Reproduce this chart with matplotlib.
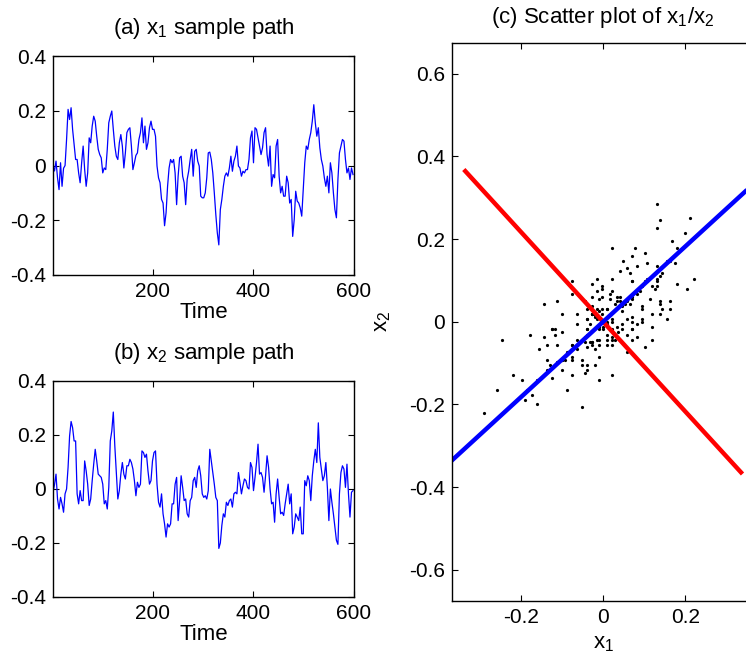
import numpy as np
import matplotlib
matplotlib.use("Agg")
import matplotlib.pyplot as plt
from matplotlib.ticker import FuncFormatter

plt.rcParams['font.family'] = ['Liberation Sans', 'DejaVu Sans']
plt.rcParams['mathtext.fontset'] = 'custom'
plt.rcParams['mathtext.rm'] = 'Liberation Sans'
plt.rcParams['axes.unicode_minus'] = False

# sampling times (every 3rd step of 600)
time = np.arange(1, 601, 3)

x1 = [
    0, -0.02, 0.016, -0.045, -0.088, 0.01, -0.076, -0.01, 0, 0.095, 0.205, 0.168, 0.211, 0.132, 0.077, 0.022, 0.022, -0.027, -0.063, 0.01,
    0.071, -0.015, -0.076, -0.027, 0.101, 0.083, 0.144, 0.18, 0.162, 0.107, 0.059, 0.04, 0.028, -0.027, -0.009, -0.015, 0.059, 0.156, 0.18, 0.199,
    0.132, 0.071, 0.034, 0.022, 0.083, 0.113, 0.071, -0.009, 0.046, 0.12, 0.132, 0.138, 0.071, -0.015, 0.01, 0.037, 0.046, 0.095, 0.12, 0.174,
    0.083, 0.144, 0.059, 0.083, 0.138, 0.162, 0.132, 0.132, 0.107, -0.002, -0.045, -0.063, -0.124, -0.137, -0.22, -0.173, -0.076, -0.009, 0.022, 0.01,
    0.022, -0.027, -0.143, -0.039, 0.028, 0.034, -0.039, -0.063, -0.143, -0.051, -0.021, 0.022, 0.059, -0.039, 0.052, 0.059, 0.016, -0.002, -0.112, -0.118,
    -0.118, -0.1, -0.045, 0.046, 0.049, 0.022, -0.027, -0.1, -0.179, -0.246, -0.29, -0.161, -0.124, -0.076, -0.039, -0.027, -0.039, -0.009, 0.034, -0.021,
    0.016, 0.034, 0.071, -0.002, -0.009, -0.039, -0.021, -0.027, -0.015, -0.015, 0.022, 0.101, 0.126, 0.01, 0.138, 0.132, 0.101, 0.071, 0.04, 0.065,
    0.12, 0.138, 0.04, -0.002, 0.071, -0.076, -0.033, -0.045, 0.071, 0.095, -0.039, -0.1, -0.076, -0.112, -0.112, -0.039, -0.063, -0.137, -0.124, -0.259,
    -0.198, -0.094, -0.13, -0.137, -0.155, -0.185, -0.088, 0.01, 0.071, 0.059, 0.095, 0.12, 0.162, 0.222, 0.156, 0.107, 0.138, 0.065, 0.022, -0.002,
    -0.045, -0.076, -0.039, -0.1, 0.01, -0.027, -0.1, -0.161, -0.191, -0.051, 0.046, 0.071, 0.095, 0.089, 0.022, -0.027, -0.009, -0.051, -0.009, -0.033,
]

x2 = [
    -0.012, 0.016, 0.055, -0.037, -0.074, -0.031, -0.055, -0.086, -0.018, 0.0, 0.08, 0.196, 0.25, 0.227, 0.178, 0.178, -0.018, -0.055, -0.006, -0.043,
    -0.043, 0.104, 0.067, 0.018, -0.061, -0.037, 0.031, 0.092, 0.147, 0.104, 0.055, 0.049, 0.043, 0.018, -0.055, -0.043, -0.074, 0.006, 0.178, 0.215,
    0.285, 0.16, 0.061, -0.037, -0.006, 0.055, 0.098, 0.055, 0.037, 0.086, 0.086, 0.11, 0.098, 0.074, 0.031, -0.025, 0.025, 0.006, 0.018, 0.141,
    0.135, 0.117, 0.129, 0.067, 0.018, 0.031, 0.104, 0.135, 0.141, 0.018, -0.049, -0.067, -0.018, -0.092, -0.129, -0.178, -0.129, -0.141, -0.129, -0.055,
    -0.055, 0.018, 0.043, -0.117, -0.043, 0.049, 0.006, -0.043, -0.037, -0.092, -0.104, -0.043, -0.031, 0.031, 0.043, 0.006, 0.067, 0.086, 0.049, -0.018,
    -0.031, -0.025, -0.037, -0.006, 0.147, 0.104, 0.061, 0.018, -0.031, -0.043, -0.22, -0.2, -0.135, -0.092, -0.104, -0.049, -0.061, -0.043, -0.037, -0.067,
    -0.018, -0.012, -0.018, 0.061, 0.025, -0.018, 0.012, 0.037, 0.031, 0.006, 0.0, 0.098, 0.08, -0.006, 0.043, 0.098, 0.166, 0.055, 0.061, 0.043,
    -0.012, 0.049, 0.123, 0.08, 0.0, -0.055, -0.049, -0.123, -0.018, 0.037, -0.031, -0.092, -0.086, -0.098, -0.055, -0.018, 0.018, -0.055, -0.018, -0.166,
    -0.141, -0.092, -0.104, -0.117, -0.067, -0.166, -0.166, 0.031, 0.012, 0.049, 0.031, -0.043, 0.049, 0.104, 0.147, 0.098, 0.245, 0.117, 0.074, 0.031,
    0.049, 0.098, 0.006, -0.117, 0.0, -0.049, -0.092, -0.141, -0.19, -0.205, -0.018, 0.061, 0.086, 0.074, 0.006, 0.092, -0.018, -0.104, -0.012, -0.006,
]

# principal axes end points (half-length vectors)
pc_major = [0.370, 0.337]
pc_minor = [0.339, -0.368]

time_ticks = [200, 400, 600]
ts_yticks = [-0.4, -0.2, 0, 0.2, 0.4]
sc_xticks = [-0.2, 0, 0.2]
sc_yticks = [-0.6, -0.4, -0.2, 0, 0.2, 0.4, 0.6]

TICK_FS = 15
LAB_FS = 16

fig = plt.figure(figsize=(7.46, 6.62), dpi=100)

fmt = FuncFormatter(lambda v, p: '%g' % round(v, 6))


def style(ax):
    ax.tick_params(direction='in', top=True, right=True, labelsize=TICK_FS,
                   length=4, width=0.8, pad=5)
    for s in ax.spines.values():
        s.set_linewidth(1.0)
    ax.xaxis.set_major_formatter(fmt)
    ax.yaxis.set_major_formatter(fmt)


axA = fig.add_axes([53 / 746, 1 - 275 / 662, 301 / 746, 219 / 662])
axA.plot(time, x1, color='#0000ff', lw=0.9)
axA.set_xlim(1, 600)
axA.set_ylim(-0.4, 0.4)
axA.set_xticks(time_ticks)
axA.set_yticks(ts_yticks)
style(axA)
axA.set_title(r'(a) $\mathregular{x_1}$ sample path', fontsize=LAB_FS, pad=16)
axA.set_xlabel('Time', fontsize=LAB_FS, labelpad=1)

axB = fig.add_axes([53 / 746, 1 - 597 / 662, 301 / 746, 216 / 662])
axB.plot(time, x2, color='#0000ff', lw=0.9)
axB.set_xlim(1, 600)
axB.set_ylim(-0.4, 0.4)
axB.set_xticks(time_ticks)
axB.set_yticks(ts_yticks)
style(axB)
axB.set_title(r'(b) $\mathregular{x_2}$ sample path', fontsize=LAB_FS, pad=16)
axB.set_xlabel('Time', fontsize=LAB_FS, labelpad=1)

axC = fig.add_axes([452.3 / 746, 1 - 601 / 662, 301.7 / 746, 558.5 / 662])
axC.plot(x1, x2, linestyle='none', marker='o', markersize=2.3,
         color='black', markeredgewidth=0)
axC.plot([-pc_minor[0], pc_minor[0]], [-pc_minor[1], pc_minor[1]],
         color='#ff0000', lw=3.2, solid_capstyle='butt')
axC.plot([-pc_major[0], pc_major[0]], [-pc_major[1], pc_major[1]],
         color='#0000ff', lw=3.2, solid_capstyle='butt')
axC.set_xlim(-0.367, 0.367)
axC.set_ylim(-0.675, 0.675)
axC.set_xticks(sc_xticks)
axC.set_yticks(sc_yticks)
style(axC)
axC.set_title(r'(c) Scatter plot of $\mathregular{x_1/x_2}$', fontsize=LAB_FS, pad=14)
axC.set_xlabel(r'$\mathregular{x_1}$', fontsize=LAB_FS, labelpad=4)
axC.set_ylabel(r'$\mathregular{x_2}$', fontsize=LAB_FS, labelpad=12)

fig.savefig('out.png', dpi=100)
